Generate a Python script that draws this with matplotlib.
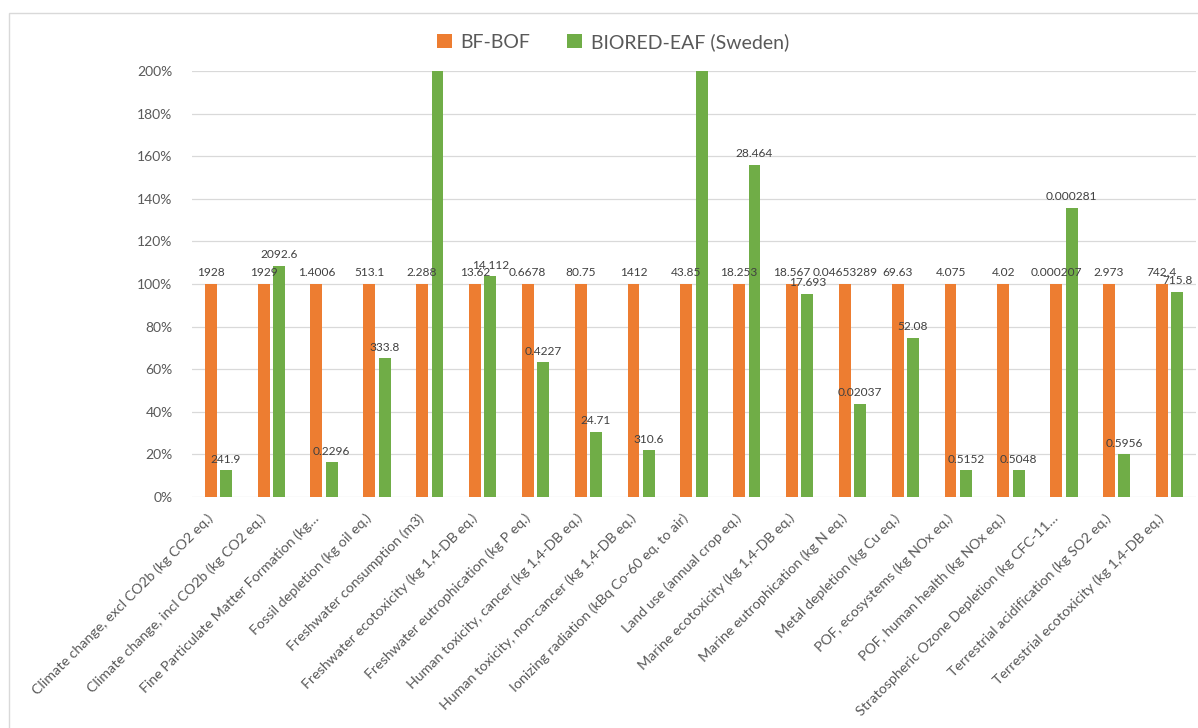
import matplotlib
matplotlib.use("Agg")
import matplotlib.pyplot as plt
from matplotlib.patches import Rectangle
from matplotlib.ticker import FuncFormatter, MultipleLocator
import matplotlib.transforms as mtransforms
import numpy as np

plt.rcParams['font.family'] = ['Lato', 'DejaVu Sans']

categories = [
    "Climate change, excl CO2b (kg CO2 eq.)",
    "Climate change, incl CO2b (kg CO2 eq.)",
    "Fine Particulate Matter Formation (kg\u2026",
    "Fossil depletion (kg oil eq.)",
    "Freshwater consumption (m3)",
    "Freshwater ecotoxicity (kg 1,4-DB eq.)",
    "Freshwater eutrophication (kg P eq.)",
    "Human toxicity, cancer (kg 1,4-DB eq.)",
    "Human toxicity, non-cancer (kg 1,4-DB eq.)",
    "Ionizing radiation (kBq Co-60 eq. to air)",
    "Land use (annual crop eq.)",
    "Marine ecotoxicity (kg 1,4-DB eq.)",
    "Marine eutrophication (kg N eq.)",
    "Metal depletion (kg Cu eq.)",
    "POF, ecosystems (kg NOx eq.)",
    "POF, human health (kg NOx eq.)",
    "Stratospheric Ozone Depletion (kg CFC-11\u2026",
    "Terrestrial acidification (kg SO2 eq.)",
    "Terrestrial ecotoxicity (kg 1,4-DB eq.)",
]

bfbof_values = [1928, 1929, 1.4006, 513.1, 2.288, 13.62, 0.6678, 80.75, 1412,
                43.85, 18.253, 18.567, 0.04653289, 69.63, 4.075, 4.02,
                0.000207, 2.973, 742.4]
# Freshwater consumption and ionizing radiation exceed the 200% axis limit;
# their labels are not visible, so these two values are estimates.
biored_values = [241.9, 2092.6, 0.2296, 333.8, 6.5, 14.112, 0.4227, 24.71, 310.6,
                 120.0, 28.464, 17.693, 0.02037, 52.08, 0.5152, 0.5048,
                 0.000281, 0.5956, 715.8]

series_names = ["BF-BOF", "BIORED-EAF (Sweden)"]
colors = ["#ED7D31", "#70AD47"]

bf_pct = np.full(len(categories), 100.0)
bio_pct = 100.0 * np.array(biored_values) / np.array(bfbof_values)

W, H = 1198, 728
fig = plt.figure(figsize=(W / 100, H / 100), dpi=100)
fig.patch.set_facecolor("white")

# chart border (only left & top visible in reference)
fig.add_artist(Rectangle((9 / W, -0.05), 1.2, (H - 13) / H + 0.05,
                         transform=fig.transFigure, fill=False,
                         edgecolor="#D9D9D9", lw=1.0))

ax = fig.add_axes([192 / W, (H - 497) / H, 1004 / W, 426 / H])
x = np.arange(len(categories))
bw = 0.225
off = 0.145
b1 = ax.bar(x - off, bf_pct, width=bw, color=colors[0], label=series_names[0], zorder=3)
b2 = ax.bar(x + off, bio_pct, width=bw, color=colors[1], label=series_names[1], zorder=3)

ax.set_xlim(-0.5, len(categories) - 0.5)
ax.set_ylim(0, 200)
ax.yaxis.set_major_locator(MultipleLocator(20))
ax.yaxis.set_major_formatter(FuncFormatter(lambda v, p: f"{v:.0f}%"))
ax.grid(axis="y", color="#D9D9D9", lw=0.9, zorder=0)
for s in ax.spines.values():
    s.set_visible(False)
ax.tick_params(axis="y", length=0, pad=14, labelsize=10, labelcolor="#595959")
ax.tick_params(axis="x", length=0, pad=2, labelsize=10.3, labelcolor="#595959")

ax.set_xticks(x)
ax.set_xticklabels(categories, rotation=45, ha="right", rotation_mode="anchor")
shift = mtransforms.ScaledTranslation(-12 / 100, -12 / 100, fig.dpi_scale_trans)
for lbl in ax.get_xticklabels():
    lbl.set_transform(lbl.get_transform() + shift)

# data labels
for i in range(len(categories)):
    ax.annotate(str(bfbof_values[i]), (x[i] - off, bf_pct[i]), xytext=(0, 4),
                textcoords="offset points", ha="center", va="bottom",
                fontsize=8.6, color="#404040", annotation_clip=True)
    if bio_pct[i] <= 200:
        ax.annotate(str(biored_values[i]), (x[i] + off, bio_pct[i]), xytext=(0, 4),
                    textcoords="offset points", ha="center", va="bottom",
                    fontsize=8.6, color="#404040")

fig.legend(handles=[b1, b2], labels=series_names, loc="center",
           bbox_to_anchor=(613 / W, 1 - 42 / H), ncol=2, frameon=False,
           fontsize=14, labelcolor="#595959", handlelength=0.75,
           handleheight=0.75, handletextpad=0.45, columnspacing=1.9)

fig.savefig("out.png", dpi=100)
